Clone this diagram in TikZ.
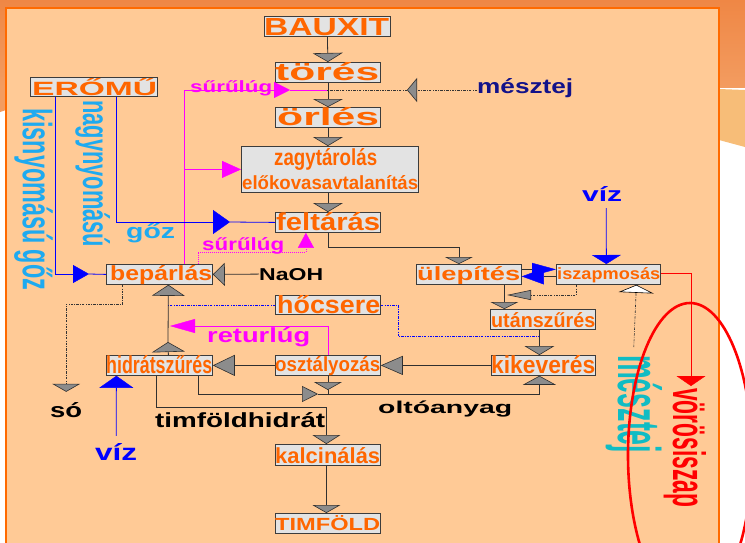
\documentclass[tikz,border=0pt]{standalone}
\usepackage{fontspec}
\setmainfont{Liberation Sans}
\usepackage{graphicx}
\usetikzlibrary{arrows.meta}
\definecolor{peach}{HTML}{FFCA96}
\definecolor{bgorange}{HTML}{EF8745}
\definecolor{bgorange2}{HTML}{F39C60}
\definecolor{bglight}{HTML}{F7BD78}
\definecolor{frameor}{HTML}{FF6A00}
\definecolor{orng}{HTML}{FF6600}
\definecolor{boxfill}{HTML}{E3E3E3}
\definecolor{boxline}{HTML}{3C3C3C}
\definecolor{linegray}{HTML}{303030}
\definecolor{trigray}{HTML}{8C8C8C}
\definecolor{tridark}{HTML}{303030}
\definecolor{mag}{HTML}{FF00FF}
\definecolor{bl}{HTML}{0000FF}
\definecolor{navy}{HTML}{12128A}
\definecolor{skyc}{HTML}{1EAAF0}
\definecolor{tealc}{HTML}{10BCC4}
\definecolor{rd}{HTML}{FF0000}
\newcommand\fitt[3]{\resizebox{#1pt}{#2pt}{#3}}
\begin{document}
\begin{tikzpicture}[x=1pt,y=-1pt,
  pbox/.style={draw=boxline, fill=boxfill, line width=0.8pt, inner sep=0pt, anchor=north west},
  lbl/.style={inner sep=0pt, anchor=base west, font=\bfseries},
  otxt/.style={lbl, text=orng},
  conn/.style={draw=linegray, line width=0.8pt},
  bconn/.style={draw=bl, line width=0.8pt},
  mconn/.style={draw=mag, line width=0.8pt},
  rconn/.style={draw=rd, line width=0.8pt},
  dd/.style={draw=black!80, line width=0.6pt, dash pattern=on 2.5pt off 1.2pt on 0.8pt off 1.2pt},
  bdd/.style={draw=bl, line width=0.6pt, dash pattern=on 2.5pt off 1.2pt on 0.8pt off 1.2pt},
  mdot/.style={draw=mag, line width=0.7pt, dash pattern=on 1pt off 1pt},
  gtri/.style 2 args={-{Triangle[length=#1pt,width=#2pt,fill=trigray,color=tridark,line width=0.6pt]}},
  btri/.style 2 args={-{Triangle[length=#1pt,width=#2pt,fill=bl,color=bl,line width=0.4pt]}},
  mtri/.style 2 args={-{Triangle[length=#1pt,width=#2pt,fill=mag,color=mag,line width=0.4pt]}},
  rtri/.style 2 args={-{Triangle[length=#1pt,width=#2pt,fill=rd,color=rd,line width=0.4pt]}},
  wtri/.style 2 args={-{Triangle[length=#1pt,width=#2pt,fill=white,color=black,line width=0.6pt]}}
]
\useasboundingbox (0,0) rectangle (745,542);
% background
\fill[white] (0,0) rectangle (745,542);
\shade[top color=bgorange, bottom color=bgorange2] (0,0) rectangle (745,87);
\fill[bgorange2] (0,87) -- (6,87) -- (6,110) -- (0,112) -- cycle;
\fill[bglight] (719,89) -- (745,90) -- (745,147) -- (719,140) -- cycle;
\filldraw[fill=peach, draw=frameor, line width=1.6pt] (6,8) rectangle (719,560);

% boxes
\node[pbox, minimum width=126pt, minimum height=20pt] (bauxit) at (264,16) {};
\node[pbox, minimum width=105pt, minimum height=20pt] (tores) at (275,62) {};
\node[pbox, minimum width=105pt, minimum height=20pt] (orles) at (275,107) {};
\node[pbox, minimum width=177pt, minimum height=46pt] (zagy) at (241,146) {};
\node[pbox, minimum width=105pt, minimum height=20pt] (feltaras) at (275,212) {};
\node[pbox, minimum width=127pt, minimum height=19pt] (eromu) at (30,77) {};
\node[pbox, minimum width=106pt, minimum height=20pt] (beparlas) at (106,264) {};
\node[pbox, minimum width=105pt, minimum height=20pt] (ulepites) at (416,264) {};
\node[pbox, minimum width=104pt, minimum height=20pt] (iszap) at (556,264) {};
\node[pbox, minimum width=105pt, minimum height=19pt] (hocsere) at (275,295) {};
\node[pbox, minimum width=105pt, minimum height=20pt] (utan) at (490,309) {};
\node[pbox, minimum width=106pt, minimum height=20pt] (hidrat) at (106,355) {};
\node[pbox, minimum width=105pt, minimum height=20pt] (osztaly) at (275,355) {};
\node[pbox, minimum width=104pt, minimum height=20pt] (kikev) at (491,355) {};
\node[pbox, minimum width=105pt, minimum height=21pt] (kalcin) at (275,444) {};
\node[pbox, minimum width=105pt, minimum height=20pt] (timfold) at (275,513) {};

% labels outside boxes
\node[lbl] (naoh) at (259,280) {\fitt{64}{12}{NaOH}};
\node[lbl, text=navy] (mesztej) at (477,93) {\fitt{96}{15}{mésztej}};
\node[lbl, text=bl] (viz1) at (582,201) {\fitt{40}{15}{víz}};
\node[lbl, text=bl] (viz2) at (95,460) {\fitt{42}{17}{víz}};
\node[lbl] (so) at (50,417) {\fitt{32}{15}{só}};
\node[lbl] (timfh) at (155,427) {\fitt{170}{15}{timföldhidrát}};
\node[lbl] (olto) at (378,413) {\fitt{134}{12.6}{oltóanyag}};
\node[lbl, text=mag] (surulug1) at (190,92) {\fitt{82}{12}{sűrűlúg}};
\node[lbl, text=mag] (surulug2) at (202,250) {\fitt{82}{13}{sűrűlúg}};
\node[lbl, text=mag] (retur) at (207,342) {\fitt{103}{15}{returlúg}};
\node[lbl, text=skyc] (goz) at (126,238) {\fitt{49}{15}{gőz}};
\node[lbl, text=skyc, rotate=-90] (kisny) at (23,108) {\fitt{182}{30}{kisnyomású gőz}};
\node[lbl, text=skyc, rotate=-90] (nagyny) at (83,100) {\fitt{147}{27}{nagynyomású}};
\node[lbl, text=tealc, rotate=-90] (mesztej2) at (618,355) {\fitt{98}{44}{mésztej}};
\node[lbl, text=rd, rotate=-90] (voros) at (673,388) {\fitt{119}{33}{vörösiszap}};

% coordinates
\coordinate (jm) at (327,90);
\coordinate (s1) at (290,90);
\coordinate (mt) at (407,90);
\coordinate (mv) at ([xshift=25pt]beparlas.north);
\coordinate (d1) at ([xshift=39pt]beparlas.north);
\coordinate (e1) at (89,274);
\coordinate (e2) at (230,222);
\coordinate (k1) at (507,295);
\coordinate (vr) at (691,386);
\coordinate (hv) at ([xshift=9pt]beparlas.south);
\coordinate (h1) at ([xshift=9pt]hidrat.north);
\coordinate (h2) at (168,342);
\coordinate (hk) at (539,336);
\coordinate (r1) at (170,326);
\coordinate (so1) at ([yshift=10pt]so.north);
\coordinate (o1) at (318,394);
\coordinate (o3) at (osztaly.south |- o1);

% main line
\draw[conn, gtri={9}{30}] (bauxit.south) -- (tores.north);
\draw[conn, gtri={8}{30}] (tores.south) -- (orles.north);
\draw[conn, gtri={9}{30}] (orles.south) -- ([xshift=-2pt]zagy.north);
\draw[conn, gtri={9}{30}] ([xshift=-2pt]zagy.south) -- (feltaras.north);
\draw[conn, gtri={7}{28}] (feltaras.south) -- ++(0,15) -| ([xshift=-10pt]ulepites.north);

% suru lug
\draw[mconn, mtri={16}{16}] (mv) |- (s1);
\draw[mconn] (s1) -- (jm);
\draw[mconn, mtri={19}{17}] (mv |- zagy.west) -- (zagy.west);
\draw[mdot, mtri={15}{16}] (d1) -- ++(0,-12) -| ([xshift=-22pt]feltaras.south);

% mesztej top
\draw[dd, gtri={10}{24}] (mt -| mesztej.west) -- (mt);
\draw[dd] (mt) -- (jm);

% NaOH
\draw[conn, gtri={12}{23}] (naoh.west) -- (beparlas.east);

% eromu steam
\draw[bconn, btri={16}{18}] ([xshift=-38.5pt]eromu.south) |- (e1);
\draw[bconn] (e1) -- (beparlas.west);
\draw[bconn, btri={17}{24}] ([xshift=22.5pt]eromu.south) |- (e2);
\draw[bconn] (e2) -- (feltaras.west);

% ulepites / iszapmosas
\draw[conn, btri={24}{13}] ([yshift=5pt]ulepites.east) -- ([yshift=5pt]iszap.west);
\draw[conn, btri={22}{16}] ([yshift=-2pt]iszap.west) -- ([yshift=-2pt]ulepites.east);
\draw[bconn, btri={9}{29}] ([xshift=4pt,yshift=-7pt]viz1.south) -- ([xshift=-2pt]iszap.north);
\draw[dd, gtri={24}{10}] ([xshift=-32pt]iszap.south) |- (k1);
\draw[conn, gtri={7}{28}] ([xshift=35.5pt]ulepites.south) -- ([xshift=-38.5pt]utan.north);
\draw[conn, gtri={9}{30}] ([xshift=-3.5pt]utan.south) -- ([xshift=-4pt]kikev.north);
\draw[dd, wtri={8}{35}] ([yshift=8pt]mesztej2.west) -- ([xshift=28pt]iszap.south);
\draw[rconn, rtri={10}{29}] ([yshift=1pt]iszap.east) -| (vr);

% hocsere
\draw[bdd] (hocsere.west) -- (hocsere.west -| hv);
\draw[bdd] (hocsere.east) -- ++(17,0) |- (hk);

% beparlas - hidratszures
\draw[conn, gtri={10}{33}] (h1) -- (h2);
\draw[conn, gtri={11}{33}] (h2) -- (hv);
\draw[mconn, mtri={25}{14}] (osztaly.north) |- (r1);
\draw[dd, gtri={8}{28}] ([xshift=-37pt]beparlas.south) -- ++(0,19) -| (so1);
\draw[bconn, btri={12}{34}] ([yshift=7pt]viz2.north) -- ([xshift=-43pt]hidrat.south);
\draw[conn, gtri={22}{21}] (osztaly.west) -- (hidrat.east);
\draw[conn, gtri={22}{19}] (kikev.west) -- (osztaly.east);
\draw[conn, gtri={9}{28}] ([xshift=-3pt]hidrat.south) -- ++(0,32) -| ([xshift=-1.5pt]kalcin.north);
\draw[conn, gtri={16}{16}] ([xshift=39pt]hidrat.south) |- (o1);
\draw[conn, gtri={9}{33}] (o1) -| ([xshift=-4pt]kikev.south);
\draw[conn, gtri={8}{28}] (osztaly.south) -- ([yshift=4pt]o3);
\draw[conn] ([yshift=4pt]o3) -- (o3);
\draw[conn, gtri={8}{28}] ([xshift=-1.5pt]kalcin.south) -- ([xshift=-1.5pt]timfold.north);

% box texts
\node[otxt] (tbauxit) at (264,35) {\fitt{125}{17}{BAUXIT}};
\node[otxt] (ttores) at (275,80) {\fitt{104}{18}{törés}};
\node[otxt] (torles) at (277,125) {\fitt{102}{18}{örlés}};
\node[otxt] (tzagy1) at (274,165) {\fitt{103}{17}{zagytárolás}};
\node[otxt] (tzagy2) at (242,189) {\fitt{176}{14}{előkovasavtalanítás}};
\node[otxt] (tfelt) at (276,230) {\fitt{104}{18}{feltárás}};
\node[otxt] (teromu) at (32,95) {\fitt{125}{17}{ERŐMŰ}};
\node[otxt] (tbep) at (110,280) {\fitt{102}{15}{bepárlás}};
\node[otxt] (tulep) at (417,280) {\fitt{103}{14}{ülepítés}};
\node[otxt] (tiszap) at (557,279) {\fitt{103}{12}{iszapmosás}};
\node[otxt] (thocs) at (277,313) {\fitt{103}{18}{hőcsere}};
\node[otxt] (tutan) at (491,327) {\fitt{104}{15}{utánszűrés}};
\node[otxt] (thidr) at (106,373) {\fitt{106}{18}{hidrátszűrés}};
\node[otxt] (tosz) at (275,371) {\fitt{105}{15}{osztályozás}};
\node[otxt] (tkik) at (491,373) {\fitt{104}{18}{kikeverés}};
\node[otxt] (tkalc) at (275,463) {\fitt{105}{16}{kalcinálás}};
\node[otxt] (ttimf) at (275,530) {\fitt{105}{15}{TIMFÖLD}};

% red ellipse
\draw[rd, line width=2.6pt] (690,455) ellipse [x radius=62pt, y radius=152pt];
\end{tikzpicture}
\end{document}
